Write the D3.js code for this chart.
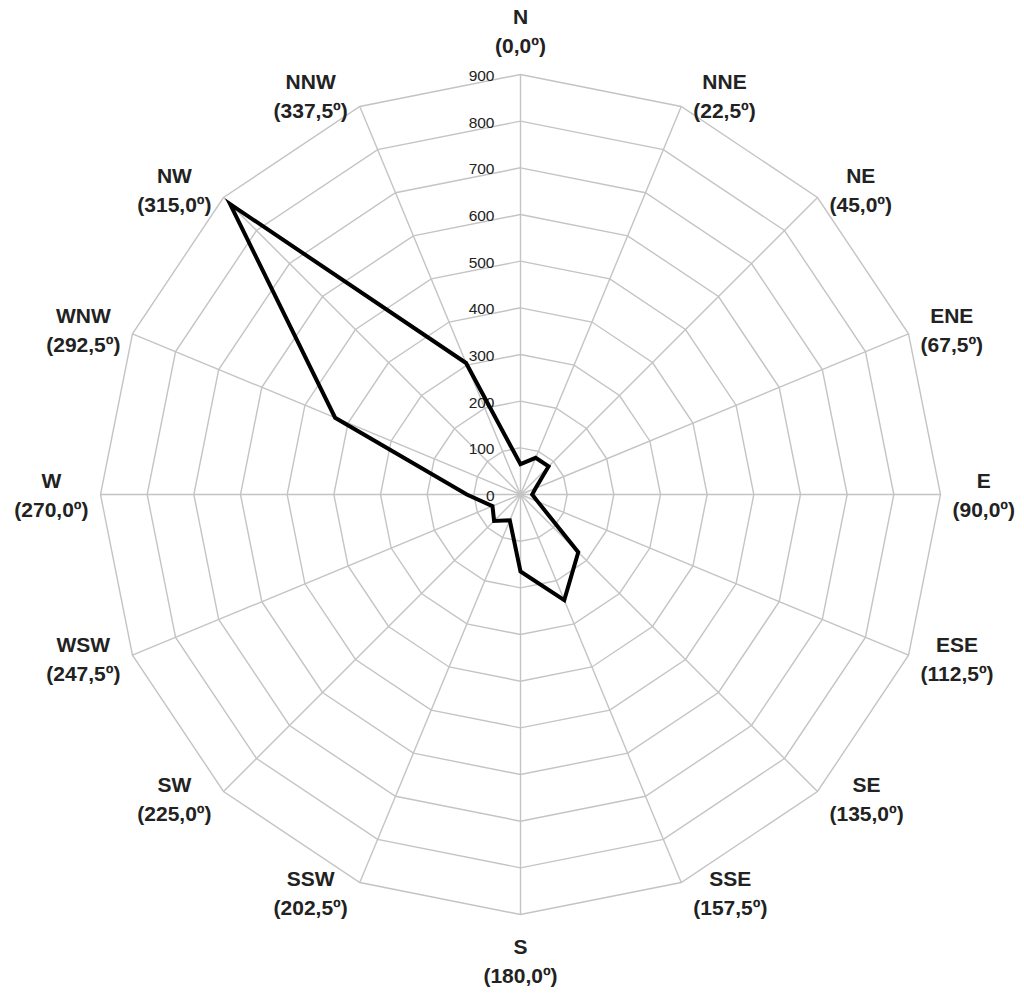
<!DOCTYPE html>
<html>
<head>
<meta charset="utf-8">
<script src="https://cdn.jsdelivr.net/npm/d3@7"></script>
<style>
  body { margin: 0; background: #fff; }
  svg { display: block; }
</style>
</head>
<body>
<svg id="chart"></svg>
<script>
// wind directions, their bearing labels and the measured values
const directions = ["N", "NNE", "NE", "ENE", "E", "ESE", "SE", "SSE",
                    "S", "SSW", "SW", "WSW", "W", "WNW", "NW", "NNW"]
const bearings = ["0,0", "22,5", "45,0", "67,5", "90,0", "112,5", "135,0", "157,5",
                  "180,0", "202,5", "225,0", "247,5", "270,0", "292,5", "315,0", "337,5"]
const values = [65, 85, 85, 35, 25, 40, 175, 245,
                165, 60, 80, 65, 115, 430, 880, 305]
const ticks = [0, 100, 200, 300, 400, 500, 600, 700, 800, 900]

const width = 1024, height = 997
const cx = 520.5, cy = 494.5, radius = 420

const svg = d3.select("#chart")
    .attr("width", width)
    .attr("height", height)

const r = d3.scaleLinear()
    .domain([0, d3.max(ticks)])
    .range([0, radius])

const angle = d3.scaleLinear()
    .domain([0, directions.length])
    .range([0, 2 * Math.PI])

const g = svg.append("g")
    .attr("transform", "translate(" + cx + "," + cy + ")")

// rings
const ring = d3.lineRadial()
    .angle((d, i) => angle(i))
    .radius(d => r(d))
    .curve(d3.curveLinearClosed)

g.selectAll(".ring")
    .data(ticks.filter(t => t > 0))
    .enter().append("path")
    .attr("class", "ring")
    .attr("d", t => ring(directions.map(() => t)))
    .style("fill", "none")
    .style("stroke", "#c4c4c4")
    .style("stroke-width", 1.4)

// spokes
g.selectAll(".spoke")
    .data(directions)
    .enter().append("line")
    .attr("class", "spoke")
    .attr("x1", 0).attr("y1", 0)
    .attr("x2", (d, i) => r(d3.max(ticks)) * Math.sin(angle(i)))
    .attr("y2", (d, i) => -r(d3.max(ticks)) * Math.cos(angle(i)))
    .style("stroke", "#c4c4c4")
    .style("stroke-width", 1.4)

// tick labels along N axis
g.selectAll(".tick")
    .data(ticks)
    .enter().append("text")
    .attr("class", "tick")
    .attr("x", -26)
    .attr("y", d => -r(d) + 1)
    .attr("text-anchor", "end")
    .attr("dominant-baseline", "central")
    .style("font-family", "'Liberation Sans', Arial, sans-serif")
    .style("font-size", "15.5px")
    .style("fill", "#222")
    .text(d => d)

// data line
const line = d3.lineRadial()
    .angle((d, i) => angle(i))
    .radius(d => r(d))
    .curve(d3.curveLinearClosed)

g.append("path")
    .attr("d", line(values))
    .style("fill", "none")
    .style("stroke", "#000")
    .style("stroke-width", 4)
    .style("stroke-linejoin", "miter")
    .style("stroke-miterlimit", 10)

// direction labels
const labels = g.selectAll(".dir")
    .data(directions)
    .enter().append("g")
    .attr("class", "dir")

labels.append("text")
    .attr("class", "name")
    .attr("y", -14.5)
    .text(d => d)
labels.append("text")
    .attr("class", "bearing")
    .attr("y", 14.5)
    .text((d, i) => "(" + bearings[i] + "º)")

labels.selectAll("text")
    .attr("text-anchor", "middle")
    .attr("dominant-baseline", "central")
    .style("font-family", "'Liberation Sans', Arial, sans-serif")
    .style("font-size", "21px")
    .style("font-weight", "bold")
    .style("fill", "#222")

labels.attr("transform", function(d, i) {
    const a = angle(i)
    const s = Math.sin(a), c = Math.cos(a)
    const ex = radius * s, ey = -radius * c
    const hw = d3.max(d3.select(this).selectAll("text").nodes(), n => n.getComputedTextLength()) / 2
    let x, y
    if (Math.abs(s) < 0.01) {
        x = 0
        y = ey + (c > 0 ? -44 : 46)
    } else {
        x = ex + (s > 0 ? 1 : -1) * (12 + hw)
        y = ey - c * 11
    }
    return "translate(" + x + "," + y + ")"
})
</script>
</body>
</html>
